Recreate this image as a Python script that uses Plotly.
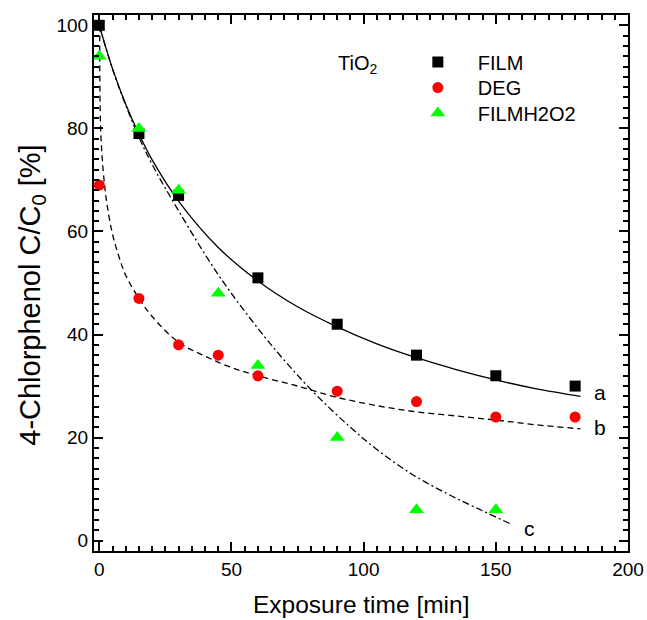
import plotly.graph_objects as go

# Measured data
film_x = [0, 15, 30, 60, 90, 120, 150, 180]
film_y = [100, 79, 67, 51, 42, 36, 32, 30]

deg_x = [0, 15, 30, 45, 60, 90, 120, 150, 180]
deg_y = [69, 47, 38, 36, 32, 29, 27, 24, 24]

h2o2_x = [0, 15, 30, 45, 60, 90, 120, 150]
h2o2_y = [94, 80, 68, 48, 34, 20, 6, 6]

# Fitted curves
fit_a_x = [0, 5, 10, 15, 20, 30, 45, 60, 75, 90, 105, 120, 135, 150, 165, 182]
fit_a_y = [100, 91.6, 84.7, 78.9, 73.9, 65.9, 56.9, 50.4, 45.4, 41.5, 38.2, 35.5, 33.2, 31.2, 29.5, 28.0]

fit_b_x = [0.15, 0.4, 1, 2, 3, 5, 7.5, 10, 15, 20, 30, 40, 50, 60, 75, 90, 105, 120, 135, 150, 165, 182]
fit_b_y = [100, 82, 75, 69, 65, 59.5, 55, 51.5, 47, 43.5, 38.5, 35.8, 33.6, 32, 30, 27.8, 26.2, 25, 24.2, 23.4, 22.5, 21.7]

fit_c_x = [0, 5, 10, 15, 20, 30, 45, 60, 70, 82, 95, 105, 118, 132, 145, 155.4]
fit_c_y = [100, 91.5, 84.5, 78.3, 73, 64, 51.6, 41.2, 35, 28.3, 22, 17.7, 13, 9, 5.8, 3.3]

curve_labels = ["a", "b", "c"]
label_x = [186.5, 186.5, 160]
label_y = [28.7, 21.9, 2.3]

FONT = "Liberation Sans, Arial, sans-serif"

fig = go.Figure()

fig.add_trace(go.Scatter(x=fit_a_x, y=fit_a_y, mode="lines", line=dict(color="black", width=1.3, shape="spline"),
                         showlegend=False, hoverinfo="skip"))
fig.add_trace(go.Scatter(x=fit_b_x, y=fit_b_y, mode="lines", line=dict(color="black", width=1.3, shape="spline", dash="6px,4px"),
                         showlegend=False, hoverinfo="skip"))
fig.add_trace(go.Scatter(x=fit_c_x, y=fit_c_y, mode="lines", line=dict(color="black", width=1.3, shape="spline", dash="7px,3px,2px,3px"),
                         showlegend=False, hoverinfo="skip"))

fig.add_trace(go.Scatter(x=film_x, y=film_y, mode="markers", name="FILM", legend="legend",
                         marker=dict(symbol="square", size=11, color="black")))
fig.add_trace(go.Scatter(x=deg_x, y=deg_y, mode="markers", name="DEG", legend="legend2",
                         marker=dict(symbol="circle", size=11, color="#ff0000")))
fig.add_trace(go.Scatter(x=h2o2_x, y=h2o2_y, mode="markers", name="FILMH2O2", legend="legend3",
                         marker=dict(symbol="triangle-up", size=13, color="#00ff00")))

for t, xx, yy in zip(curve_labels, label_x, label_y):
    fig.add_annotation(x=xx, y=yy, text=t, showarrow=False, xanchor="left", yanchor="middle",
                       font=dict(size=21, color="black", family=FONT))

fig.add_annotation(x=89.5, y=92.3, text="TiO<sub>2</sub>", showarrow=False, xanchor="left", yanchor="middle",
                   font=dict(size=20, color="black", family=FONT))

# axis titles as text placed in paper coordinates
fig.add_annotation(xref="paper", yref="paper", x=-0.1162, y=0.478, text="4-Chlorphenol C/C<sub>0</sub> [%]",
                   textangle=-90, showarrow=False, xanchor="center", yanchor="middle",
                   font=dict(size=29, color="black", family=FONT))
fig.add_annotation(xref="paper", yref="paper", x=0.5, y=-0.0989, text="Exposure time [min]",
                   showarrow=False, xanchor="center", yanchor="middle",
                   font=dict(size=24.5, color="black", family=FONT))

axis_common = dict(
    showline=True, linecolor="black", linewidth=2, mirror="ticks",
    ticks="inside", ticklen=9, tickwidth=1.5, tickcolor="black",
    showgrid=False, zeroline=False, automargin=False,
    tickfont=dict(size=19, color="black", family=FONT),
    ticklabelstandoff=0,
)

fig.update_xaxes(range=[-2, 200], tick0=0, dtick=50,
                 minor=dict(dtick=5, ticks="inside", ticklen=5, tickwidth=1.5, tickcolor="black"),
                 **axis_common)
fig.update_yaxes(range=[-2, 102], tick0=0, dtick=20,
                 minor=dict(dtick=2, ticks="inside", ticklen=5, tickwidth=1.5, tickcolor="black"),
                 **axis_common)

leg_common = dict(x=0.569, xanchor="left", yanchor="middle", bgcolor="rgba(0,0,0,0)",
                  font=dict(size=20, color="black", family=FONT), itemwidth=70)

fig.update_layout(
    width=647, height=620,
    margin=dict(l=94, r=19, t=15, b=69),
    paper_bgcolor="white", plot_bgcolor="white",
    font=dict(family=FONT, color="black"),
    legend=dict(y=0.9123, **leg_common),
    legend2=dict(y=0.8647, **leg_common),
    legend3=dict(y=0.8172, **leg_common),
    showlegend=True,
)

fig.write_html("out.html")
